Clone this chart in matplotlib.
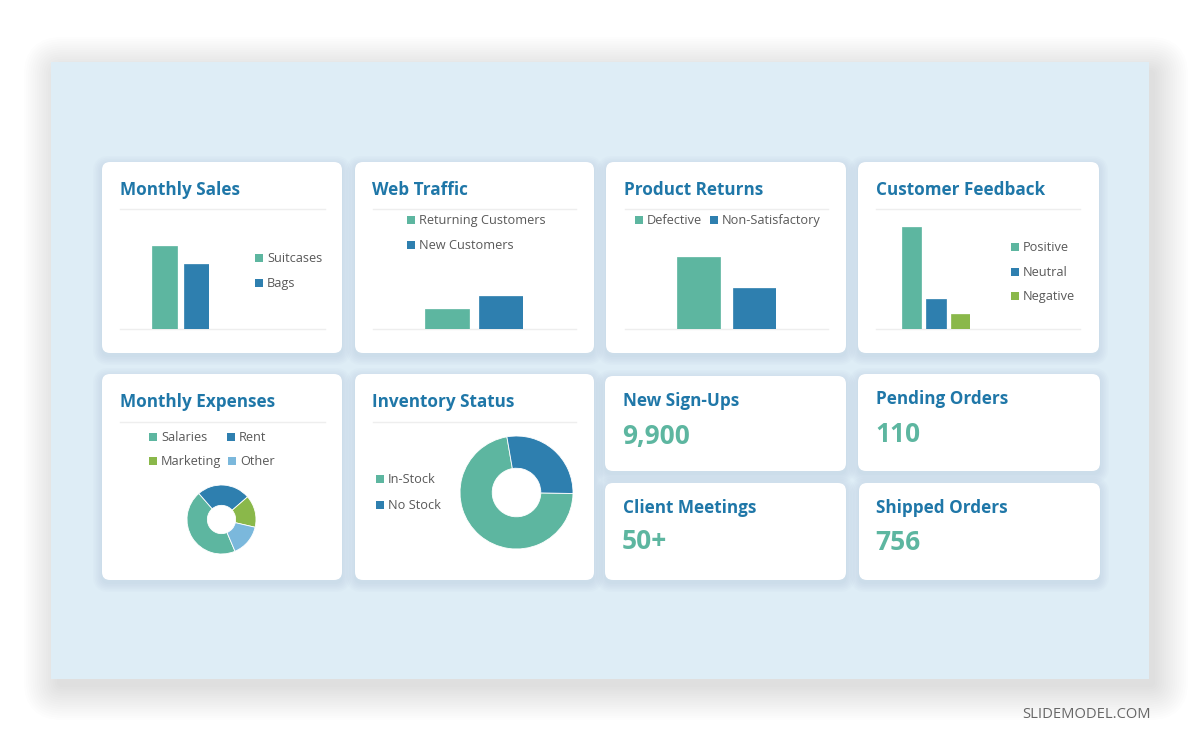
import numpy as np
import matplotlib
matplotlib.use("Agg")
import matplotlib.pyplot as plt
from matplotlib.patches import FancyBboxPatch, Rectangle

plt.rcParams['font.family'] = ['Open Sans', 'DejaVu Sans']

# data
sales_labels = ['Suitcases', 'Bags']
sales_values = [83, 65]
traffic_labels = ['Returning Customers', 'New Customers']
traffic_values = [20, 33]
returns_labels = ['Defective', 'Non-Satisfactory']
returns_values = [72, 41]
feedback_labels = ['Positive', 'Neutral', 'Negative']
feedback_values = [102, 30, 15]
expense_labels = ['Salaries', 'Rent', 'Marketing', 'Other']
expense_values = [45, 25, 15, 15]
inventory_labels = ['In-Stock', 'No Stock']
inventory_values = [72, 28]
kpi_titles = ['New Sign-Ups', 'Pending Orders', 'Client Meetings', 'Shipped Orders']
kpi_values = ['9,900', '110', '50+', '756']

TEAL = '#5db6a0'
BLUE = '#2e7faf'
GREEN = '#8ab84a'
LIGHT = '#7bb8dc'
TITLE = '#1f77a8'
GREY_TXT = '#595959'
LINE = '#eeeeee'

W, H = 1200, 743
fig = plt.figure(figsize=(W / 100, H / 100), dpi=100)
fig.patch.set_facecolor('white')
bg = fig.add_axes([0, 0, 1, 1])
bg.set_xlim(0, W)
bg.set_ylim(H, 0)
bg.axis('off')


def px_axes(l, t, r, b):
    return fig.add_axes([l / W, 1 - b / H, (r - l) / W, (b - t) / H])


# big panel with soft shadow (mostly right / bottom)
for i in range(16):
    bg.add_patch(FancyBboxPatch((51 + 6, 62 + 8), 1098, 617,
                                boxstyle=f"round,pad={i * 2.2},rounding_size={6 + i * 2.2}",
                                fc='#606060', ec='none', alpha=0.011, zorder=1))
bg.add_patch(Rectangle((51, 62), 1098, 617, fc='#deedf6', ec='none', zorder=2))


def card(l, t, r, b):
    for i in range(6):
        bg.add_patch(FancyBboxPatch((l, t + 3), r - l, b - t,
                                    boxstyle=f"round,pad={1 + i * 1.6},rounding_size={8 + i * 1.6}",
                                    fc='#8aa9bf', ec='none', alpha=0.035, zorder=3))
    bg.add_patch(FancyBboxPatch((l, t), r - l, b - t,
                                boxstyle="round,pad=0,rounding_size=8",
                                fc='white', ec='none', zorder=4))


def title(x, y, s):
    bg.text(x, y, s, fontsize=12.3, fontweight='bold', color=TITLE,
            va='baseline', ha='left', zorder=6)


def legend_item(x, yc, color, label):
    bg.add_patch(Rectangle((x, yc - 4), 8, 8, fc=color, ec='none', zorder=6))
    bg.text(x + 12, yc + 4, label, fontsize=9.2, color=GREY_TXT,
            va='baseline', ha='left', zorder=6)


def hline(x0, x1, y):
    bg.plot([x0, x1], [y, y], color=LINE, lw=1, zorder=5)


def bar_panel(l, r, values, colors, w):
    ax = px_axes(l, 209, r, 329)
    x = np.arange(len(values))
    ax.bar(x, values, w, color=colors, edgecolor=colors, linewidth=0.5, zorder=3)
    ax.set_xlim(-w / 2, len(values) - 1 + w / 2)
    ax.set_ylim(0, 120)
    ax.axis('off')


def donut(cx, cy, r, values, colors, start, width):
    ax = px_axes(cx - r, cy - r, cx + r, cy + r)
    ax.pie(values, colors=colors, startangle=start, counterclock=False, radius=1,
           wedgeprops=dict(width=width, edgecolor='white', linewidth=0.6))
    ax.set_xlim(-1, 1)
    ax.set_ylim(-1, 1)
    ax.set_aspect('equal')
    ax.axis('off')


# cards
card(102, 162, 342, 353)
card(355, 162, 594, 353)
card(606, 162, 846, 353)
card(858, 162, 1099, 353)
card(102, 374, 342, 580)
card(355, 374, 594, 580)
card(605, 376, 846, 471)
card(858, 374, 1100, 471)
card(605, 483, 846, 580)
card(859, 483, 1100, 580)

# Monthly Sales
title(120, 195, 'Monthly Sales')
hline(120, 325, 209)
hline(120, 325, 329)
bar_panel(152, 209, sales_values, [TEAL, BLUE], 0.78)
legend_item(255, 258, TEAL, sales_labels[0])
legend_item(255, 283, BLUE, sales_labels[1])

# Web Traffic
title(372, 195, 'Web Traffic')
hline(373, 576, 209)
hline(373, 576, 329)
bar_panel(425, 523, traffic_values, [TEAL, BLUE], 0.8)
legend_item(407, 220, TEAL, traffic_labels[0])
legend_item(407, 245, BLUE, traffic_labels[1])

# Product Returns
title(624, 195, 'Product Returns')
hline(625, 828, 209)
hline(625, 828, 329)
bar_panel(677, 776, returns_values, [TEAL, BLUE], 0.78)
legend_item(635, 220, TEAL, returns_labels[0])
legend_item(710, 220, BLUE, returns_labels[1])

# Customer Feedback
title(876, 195, 'Customer Feedback')
hline(876, 1080, 209)
hline(876, 1080, 329)
bar_panel(902, 970, feedback_values, [TEAL, BLUE, GREEN], 0.78)
for i, (lab, col) in enumerate(zip(feedback_labels, [TEAL, BLUE, GREEN])):
    legend_item(1011, 247 + i * 24.5, col, lab)

# Monthly Expenses
title(120, 407, 'Monthly Expenses')
hline(120, 325, 422)
legend_item(149, 437, TEAL, expense_labels[0])
legend_item(227, 437, BLUE, expense_labels[1])
legend_item(149, 461, GREEN, expense_labels[2])
legend_item(228, 461, LIGHT, expense_labels[3])
donut(221.5, 519.5, 34.5, expense_values, [TEAL, BLUE, GREEN, LIGHT], -67, 0.59)

# Inventory Status
title(372, 407, 'Inventory Status')
hline(373, 576, 422)
legend_item(376, 479, TEAL, inventory_labels[0])
legend_item(376, 505, BLUE, inventory_labels[1])
donut(516.5, 492.5, 56.5, inventory_values, [TEAL, BLUE], -1, 0.57)

# KPI cards
kpi_pos = [(623, 406, 444), (876, 404, 442), (623, 513, 549), (876, 513, 550)]
for (x, yt, yv), t, v in zip(kpi_pos, kpi_titles, kpi_values):
    title(x, yt, t)
    bg.text(x - 1, yv, v, fontsize=19, fontweight='bold', color=TEAL,
            va='baseline', ha='left', zorder=6)

bg.text(1151, 718, 'SLIDEMODEL.COM', fontsize=10.6, color='#666666',
        ha='right', va='baseline', zorder=6)

fig.savefig('out.png', dpi=100)
